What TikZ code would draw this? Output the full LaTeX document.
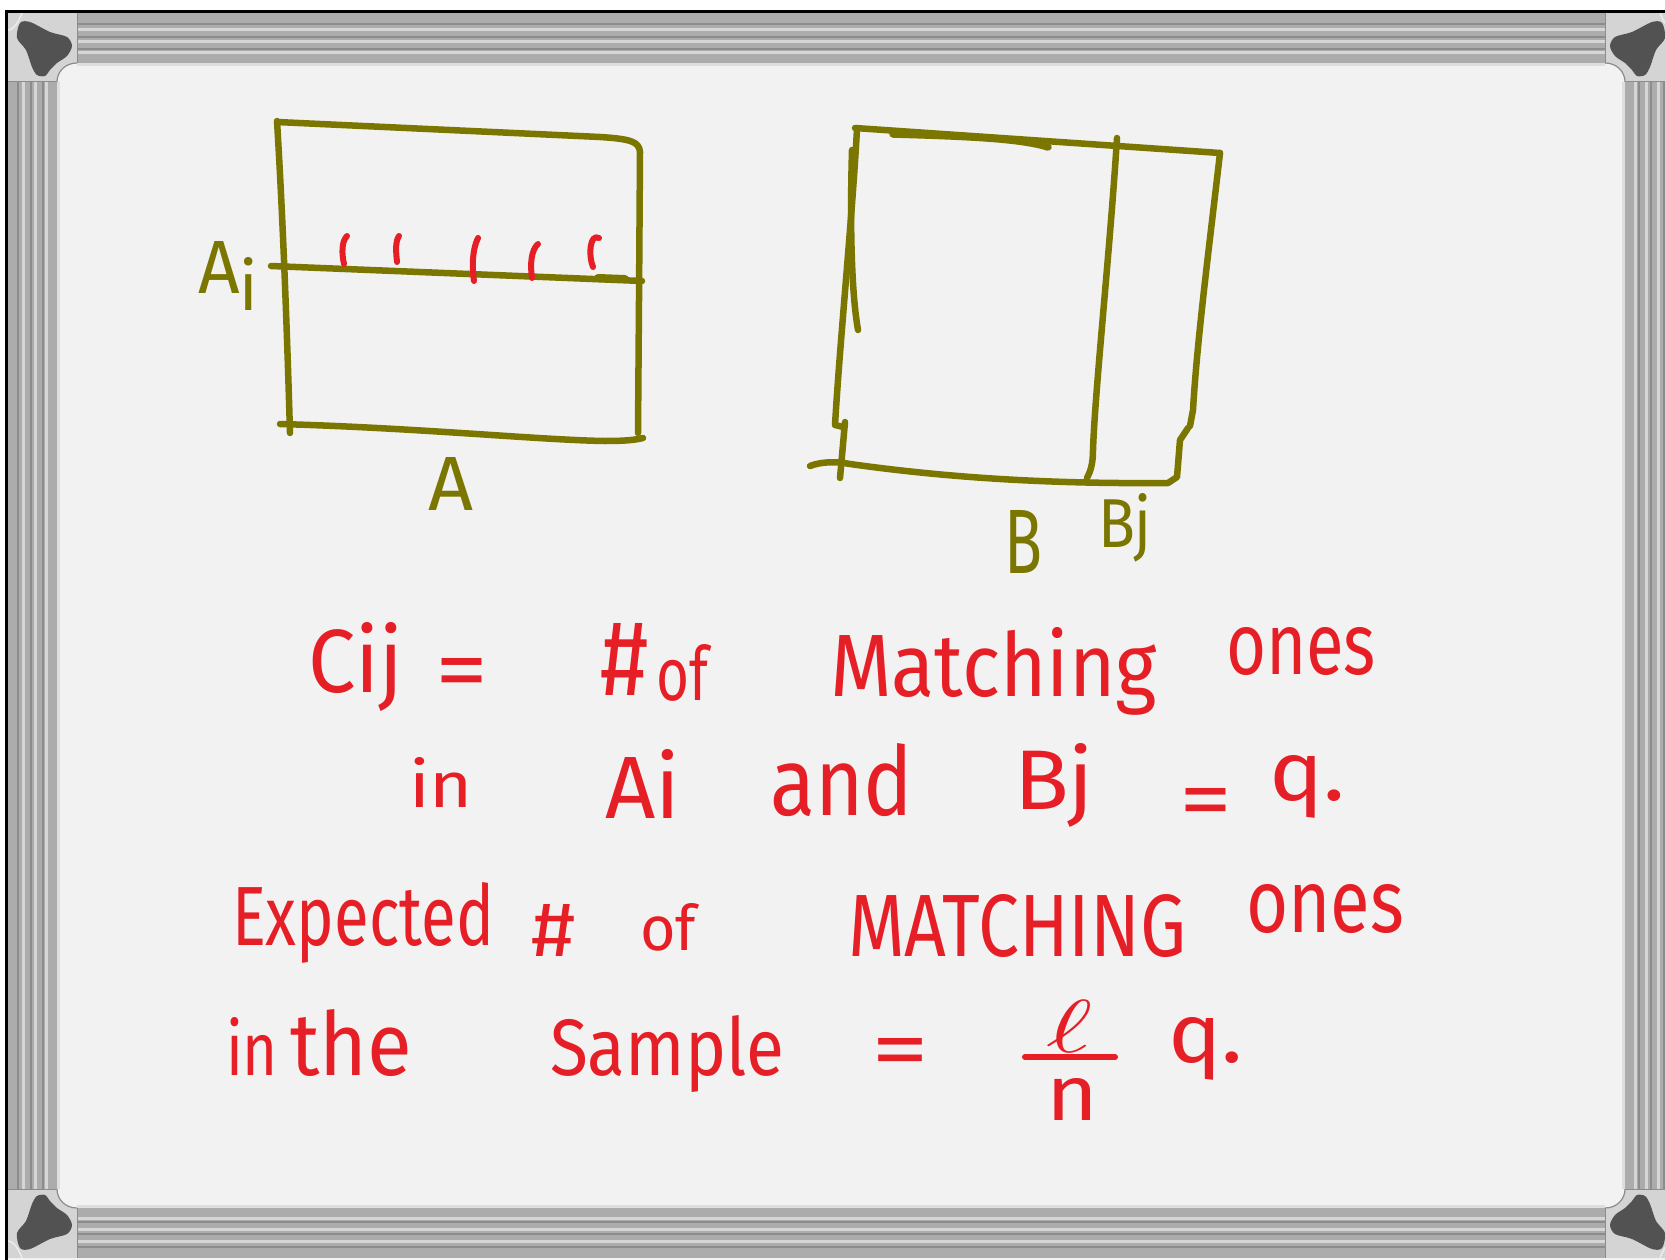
\documentclass[tikz,border=0pt]{standalone}
\usepackage{fontspec}
\setmainfont{Fira Sans}
\usepackage{graphicx}
\definecolor{ink}{RGB}{230,30,38}
\definecolor{olv}{RGB}{122,118,0}
\definecolor{board}{RGB}{242,242,242}
\definecolor{barg}{RGB}{172,172,172}
\definecolor{bardark}{RGB}{140,140,140}
\definecolor{barlight}{RGB}{214,214,214}
\definecolor{cornerg}{RGB}{212,212,212}
\definecolor{blobg}{RGB}{82,82,82}
\newcommand\hw[3]{\resizebox{#1pt}{#2pt}{#3}}
\newcommand\quarterframe{%
  \fill[barg] (8,13) rectangle (845,63);
  \foreach \yy in {24,37,49} \draw[bardark, line width=2.5pt] (8,\yy) -- (845,\yy);
  \foreach \yy in {29.5,41.5,52.5} \draw[barlight, line width=3.5pt] (8,\yy) -- (845,\yy);
  \draw[barlight!70!board, line width=3pt] (57,64.5) -- (845,64.5);
  \fill[barg] (8,13) rectangle (57,640);
  \foreach \xx in {18,31,43} \draw[bardark, line width=2.5pt] (\xx,13) -- (\xx,640);
  \foreach \xx in {23.5,35.5,46.5} \draw[barlight, line width=3.5pt] (\xx,13) -- (\xx,640);
  \draw[barlight!70!board, line width=3pt] (58.5,63) -- (58.5,640);
  \fill[cornerg] (8,13) rectangle (77,82);
  \draw[bardark, line width=1pt] (77,13) -- (77,63) (8,82) -- (57,82);
  \fill[board] (77,63) .. controls (65,63) and (57,72) .. (57,82) -- (77,82) -- cycle;
  \draw[bardark, line width=1.2pt] (77,63) .. controls (65,63) and (57,72) .. (57,82);
  \draw[white!85!gray, line width=1.5pt] (8,30) .. controls (15,30) and (20,18) .. (22,13);
  \fill[blobg] plot[smooth cycle] coordinates {(20,23) (30,22) (50,32) (67,37) (72,46) (67,56) (57,63) (50,70) (45,76) (37,75) (32,67) (26,50) (17,38)};
}
\tikzset{
  olvstroke/.style={draw=olv, line width=6.5pt, line cap=round, line join=round},
  inkstroke/.style={draw=ink, line width=6pt, line cap=round, line join=round},
  word/.style={anchor=base west, inner sep=0pt, outer sep=0pt, text=ink},
  oword/.style={anchor=base west, inner sep=0pt, outer sep=0pt, text=olv},
}
\begin{document}
\begin{tikzpicture}[x=1pt, y=-1pt]
\useasboundingbox (0,0) rectangle (1665,1260);
\fill[white] (0,0) rectangle (1665,1260);
\fill[board] (8,13) rectangle (1665,1260);
% frame
\begin{scope}\quarterframe\end{scope}
\begin{scope}[shift={(1682,0)}, xscale=-1]\quarterframe\end{scope}
\begin{scope}[shift={(0,1271)}, yscale=-1]\quarterframe\end{scope}
\begin{scope}[shift={(1682,1271)}, xscale=-1, yscale=-1]\quarterframe\end{scope}
\draw[black, line width=3pt] (5,11.5) -- (1665,11.5);
\draw[black, line width=3pt] (6.5,10) -- (6.5,1260);

% matrix A
\draw[olvstroke] (277,121) .. controls (283,220) and (287,330) .. (290,433);
\draw[olvstroke] (277,122) -- (600,137) .. controls (632,139) and (639,142) .. (640,152) -- (639,300) -- (638,433);
\draw[olvstroke] (280,424) .. controls (420,428) and (540,440) .. (605,441) .. controls (625,441) and (635,440) .. (643,438);
\draw[olvstroke] (271,266) -- (642,281);
\draw[olv, line width=8pt, line cap=round] (598,278) -- (625,279);
% red marks in row Ai
\draw[inkstroke] (347,236) .. controls (341,242) and (342,255) .. (344,264);
\draw[inkstroke] (399,236) .. controls (395,242) and (396,252) .. (397,262);
\draw[inkstroke] (478,238) .. controls (472,250) and (472,268) .. (474,281);
\draw[inkstroke] (538,244) .. controls (531,250) and (530,265) .. (532,278);
\draw[inkstroke] (599,238) .. controls (590,233) and (588,255) .. (593,267);
% labels of A
\node[oword] (lAi) at (198,293) {\hw{60}{52}{A\raisebox{-0.45ex}{\small i}}};
\node[oword] (lA) at (428,510) {\hw{45}{53}{A}};

% matrix B
\draw[olvstroke] (855,128) -- (1220,153);
\draw[olv, line width=7.5pt, line cap=round] (893,134) .. controls (960,136) and (1020,138) .. (1048,147);
\draw[olvstroke] (857,129) .. controls (852,220) and (840,340) .. (835,425) -- (843,427);
\draw[olvstroke] (852,150) .. controls (850,220) and (851,290) .. (858,330);
\draw[olvstroke] (845,422) -- (840,478);
\draw[olvstroke] (810,466) .. controls (820,462) and (835,461) .. (850,464) .. controls (950,478) and (1050,484) .. (1168,483) -- (1177,477) -- (1180,440) -- (1188,428);
\draw[olvstroke] (1220,153) .. controls (1210,240) and (1197,340) .. (1193,410) -- (1190,426);
\draw[olvstroke] (1117,138) .. controls (1110,250) and (1095,390) .. (1093,450) .. controls (1093,465) and (1090,472) .. (1087,478);
\node[oword] (lB) at (1004,573) {\hw{38}{63}{B}};
\node[oword] (lBj) at (1098,547) {\hw{54}{54}{Bj}};

% line 1
\node[word] (w1a) at (308,692) {\hw{95}{70}{Cij}};
\node[word] (w1b) at (435,700) {\hw{53}{42}{=}};
\node[word] (w1c) at (600,695) {\hw{48}{72}{\#}};
\node[word] (w1d) at (656,700) {\hw{52}{56}{of}};
\node[word] (w1e) at (830,696) {\hw{327}{69}{Matching}};
\node[word] (w1f) at (1226,674) {\hw{150}{47}{ones}};
% line 2
\node[word] (w2a) at (409,807) {\hw{64}{50}{in}};
\node[word] (w2b) at (605,818) {\hw{75}{69}{Ai}};
\node[word] (w2c) at (770,815) {\hw{143}{72}{and}};
\node[word] (w2d) at (1014,809) {\hw{80}{66}{Bj}};
\node[word] (w2e) at (1179,828) {\hw{53}{40}{=}};
\node[word] (w2f) at (1269,800) {\hw{76}{45}{q.}};
% line 3
\node[word] (w3a) at (232,945) {\hw{262}{63}{Expected}};
\node[word] (w3b) at (531,956) {\hw{44}{52}{\#}};
\node[word] (w3c) at (640,950) {\hw{56}{47}{of}};
\node[word] (w3d) at (848,956) {\hw{338}{62}{MATCHING}};
\node[word] (w3e) at (1246,932) {\hw{158}{48}{ones}};
% line 4
\node[word] (w4a) at (226,1075) {\hw{52}{58}{in}};
\node[word] (w4b) at (290,1075) {\hw{122}{66}{the}};
\node[word] (w4c) at (550,1075) {\hw{234}{60}{Sample}};
\node[word] (w4d) at (871,1078) {\hw{58}{40}{=}};
\node[anchor=base, inner sep=0pt, text=ink] (num) at (1070,1052) {\hw{46}{52}{$\ell$}};
\coordinate (barL) at (1025,1057);
\coordinate (barR) at (1115,1057);
\draw[inkstroke] (barL) -- (barR);
\node[anchor=base, inner sep=0pt, text=ink] (den) at (1072,1120) {\hw{52}{42}{n}};
\node[word] (w4e) at (1168,1062) {\hw{75}{45}{q.}};
\end{tikzpicture}
\end{document}
